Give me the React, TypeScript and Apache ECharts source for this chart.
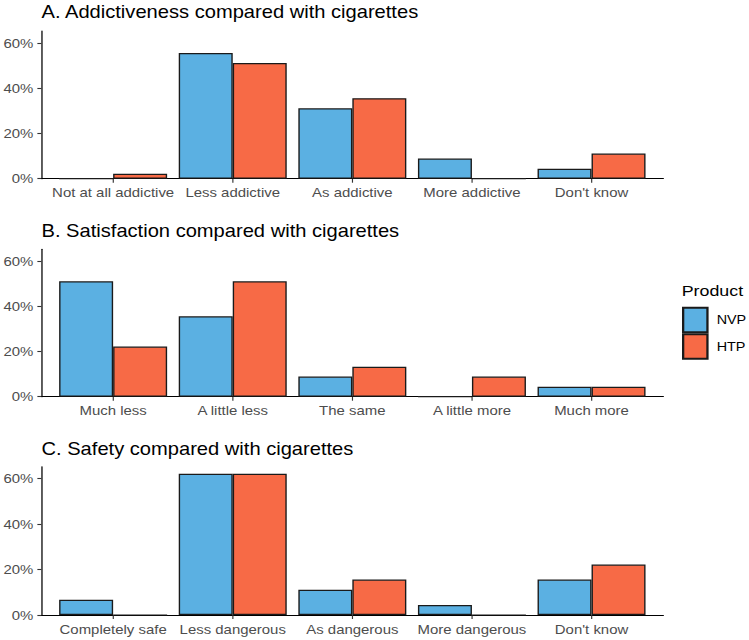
import React, { useEffect, useRef } from 'react';
import * as echarts from 'echarts';

const seriesNames = ['NVP', 'HTP'];
const seriesColors = ['#5BB0E2', '#F76A46'];

const addictCats = ['Not at all addictive', 'Less addictive', 'As addictive', 'More addictive', "Don't know"];
const addictNVP = [0, 55.6, 31.1, 8.9, 4.4];
const addictHTP = [2.2, 51.1, 35.6, 0, 11.1];

const satisCats = ['Much less', 'A little less', 'The same', 'A little more', 'Much more'];
const satisNVP = [51.1, 35.6, 8.9, 0, 4.4];
const satisHTP = [22.2, 51.1, 13.3, 8.9, 4.4];

const safetyCats = ['Completely safe', 'Less dangerous', 'As dangerous', 'More dangerous', "Don't know"];
const safetyNVP = [6.7, 62.2, 11.1, 4.4, 15.6];
const safetyHTP = [0, 62.2, 15.6, 0, 22.2];

const yTicks = [0, 20, 40, 60];
const panelTitles = [
  'A. Addictiveness compared with cigarettes',
  'B. Satisfaction compared with cigarettes',
  'C. Safety compared with cigarettes',
];
const legendTitle = 'Product';

const FONT = '"Liberation Sans", Arial, Helvetica, sans-serif';
// the reference is horizontally stretched; draw narrower and stretch the same way
const SX = 1.15;
const X = (v: number) => v / SX;

export default function App() {
  const ref = useRef<HTMLDivElement>(null);
  useEffect(() => {
    if (!ref.current) return;
    const chart = echarts.init(ref.current, undefined, { renderer: 'svg' });
    const panels = [
      { cats: addictCats, vals: [addictNVP, addictHTP] },
      { cats: satisCats, vals: [satisNVP, satisHTP] },
      { cats: safetyCats, vals: [safetyNVP, safetyHTP] },
    ];
    const gridTops = [31, 249.3, 466.7];
    const gridHeights = [147.7, 147.4, 148.3];
    const titleTops = [3.3, 221.7, 439.5];
    const catIdx = [1, 2, 3, 4, 5];

    const grid = panels.map((_, i) => ({
      left: X(41.3),
      width: X(622),
      top: gridTops[i],
      height: gridHeights[i],
    }));
    const xAxis = panels.map((p, i) => ({
      type: 'value',
      gridIndex: i,
      min: 0.4,
      max: 5.6,
      splitLine: { show: false },
      axisLine: { show: true, onZero: false, lineStyle: { color: '#000', width: 1.2 } },
      axisTick: { show: true, customValues: catIdx, length: 4, lineStyle: { color: '#333', width: 1 } },
      axisLabel: {
        customValues: catIdx,
        formatter: (v: number) => p.cats[Math.round(v) - 1] ?? '',
        color: '#4D4D4D',
        fontSize: 13,
        fontFamily: FONT,
        margin: 7.5,
      },
    }));
    const yAxis = panels.map((_, i) => ({
      type: 'value',
      gridIndex: i,
      min: 0,
      max: 65.3,
      splitLine: { show: false },
      axisLine: { show: true, lineStyle: { color: '#000', width: 1.1 } },
      axisTick: { show: true, customValues: yTicks, length: X(4), lineStyle: { color: '#333', width: 1.1 } },
      axisLabel: {
        customValues: yTicks,
        formatter: (v: number) => v + '%',
        color: '#4D4D4D',
        fontSize: 13,
        fontFamily: FONT,
        margin: X(8),
      },
    }));
    const series: any[] = [];
    panels.forEach((p, i) => {
      seriesNames.forEach((name, s) => {
        series.push({
          type: 'bar',
          name,
          xAxisIndex: i,
          yAxisIndex: i,
          barWidth: X(54),
          barGap: '0%',
          data: p.cats.map((_, k) => [k + 1, p.vals[s][k]]),
          itemStyle: { color: seriesColors[s], borderColor: '#1a1a1a', borderWidth: 1.2 },
          emphasis: { disabled: true },
        });
      });
    });
    const title: any[] = panelTitles.map((t, i) => ({
      text: t,
      left: X(41.5),
      top: titleTops[i],
      padding: 0,
      textStyle: { fontSize: 17.5, fontWeight: 'normal', color: '#000', fontFamily: FONT },
    }));
    title.push({
      text: legendTitle,
      left: X(681.7),
      top: 283,
      padding: 0,
      textStyle: { fontSize: 15.5, fontWeight: 'normal', color: '#000', fontFamily: FONT },
    });

    chart.setOption({
      animation: false,
      color: seriesColors,
      title,
      grid,
      xAxis,
      yAxis,
      series,
      legend: {
        data: seriesNames,
        orient: 'vertical',
        left: X(682),
        top: 306.7,
        padding: 0,
        icon: 'rect',
        itemWidth: X(24.3),
        itemHeight: 24.5,
        itemGap: 0,
        selectedMode: false,
        textStyle: { fontSize: 12.5, color: '#000', fontFamily: FONT, padding: [0, 0, 0, 3] },
      },
    });
    return () => chart.dispose();
  }, []);
  return (
    <div
      ref={ref}
      style={{
        position: 'fixed',
        left: 0,
        top: 0,
        width: Math.round(749 / SX),
        height: 640,
        background: '#fff',
        transform: `scaleX(${SX})`,
        transformOrigin: '0 0',
      }}
    />
  );
}
